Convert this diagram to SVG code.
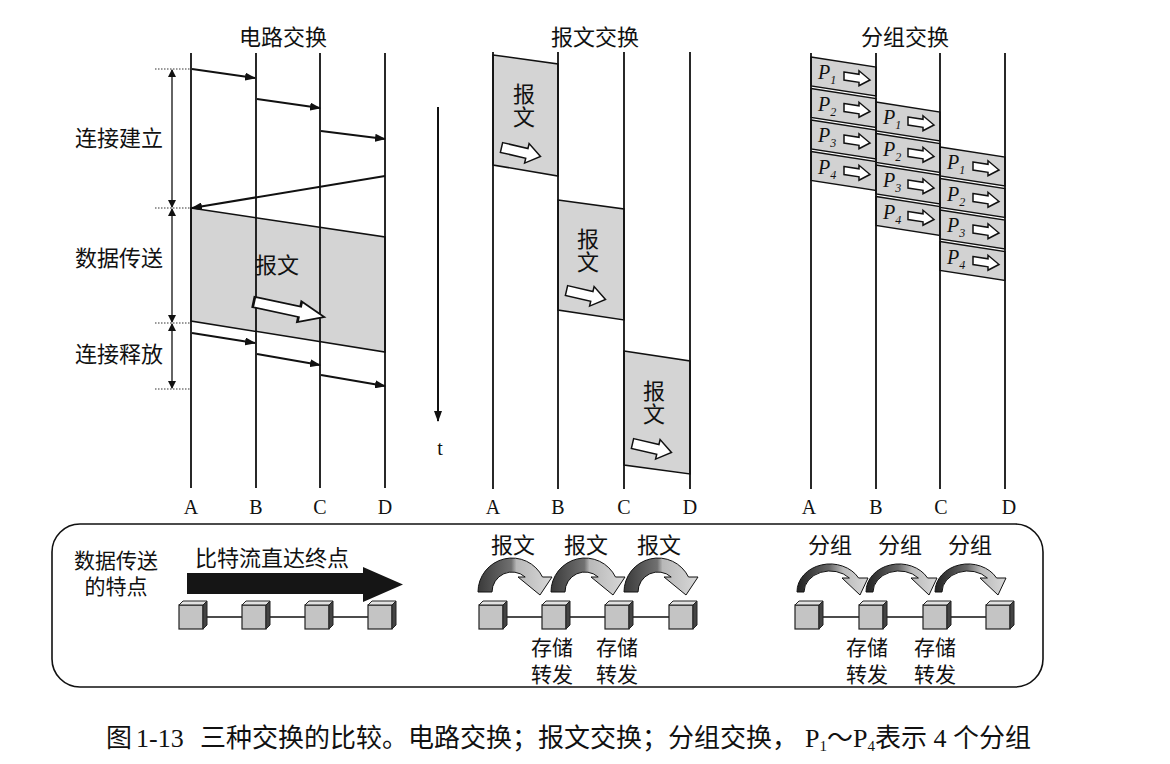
<svg xmlns="http://www.w3.org/2000/svg" xmlns:xlink="http://www.w3.org/1999/xlink" width="1170" height="764" viewBox="0 0 1170 764">
<style>
.ln{stroke:#111;stroke-width:1.8;fill:none}
.thin{stroke:#111;stroke-width:1.3;fill:none}
.dot{stroke:#333;stroke-width:1;stroke-dasharray:1.5,1.5;fill:none}
.ar{stroke:#111;stroke-width:2;fill:none}
.gray{fill:#d4d4d4;stroke:#111;stroke-width:1.5}
.pk{fill:#d2d2d2;stroke:#111;stroke-width:1.4}
.wa{fill:#fff;stroke:#111;stroke-width:1.5}
.cn{font-family:"Noto Sans CJK SC",sans-serif;font-size:22px;fill:#111}
.two{font-size:21px}
.vt{writing-mode:vertical-rl;letter-spacing:1px}
.lab{font-family:"Liberation Serif",serif;font-size:20px;fill:#111;text-anchor:middle}
.p{font-family:"Liberation Serif",serif;font-style:italic;font-size:20px;fill:#111}
.sub{font-size:12px}
.cap{font-family:"Liberation Serif","Noto Sans CJK SC",serif;font-size:26px;fill:#111}
.capc{font-family:"Noto Sans CJK SC",sans-serif;font-size:26px;fill:#111}
</style>
<defs>
<marker id="ah" markerUnits="userSpaceOnUse" markerWidth="11" markerHeight="8" refX="10" refY="4" orient="auto"><path d="M0,0 L11,4 L0,8 Z" fill="#111"/></marker>
<marker id="ah2" markerUnits="userSpaceOnUse" markerWidth="8" markerHeight="10" refX="7" refY="4" orient="auto-start-reverse"><path d="M0,0 L8,4 L0,8 Z" fill="#111"/></marker>
<path id="parrow" d="M-13,-4 L2,-4 L2,-7.5 L13,0 L2,7.5 L2,4 L-13,4 Z"/>
<path id="marrow" d="M-20,-5 L6,-5 L6,-10 L20,0 L6,10 L6,5 L-20,5 Z"/>
<linearGradient id="gm" x1="0" y1="0" x2="1" y2="0"><stop offset="0" stop-color="#3a3a3a"/><stop offset="0.45" stop-color="#707070"/><stop offset="0.52" stop-color="#b8b8b8"/><stop offset="1" stop-color="#d8d8d8"/></linearGradient>
<linearGradient id="gp" x1="0" y1="0" x2="1" y2="0"><stop offset="0" stop-color="#222"/><stop offset="0.45" stop-color="#666"/><stop offset="0.65" stop-color="#bbb"/><stop offset="1" stop-color="#d8d8d8"/></linearGradient>
<path id="marc" d="M-34,592 A34,34 0 0 1 30.5,577 L40,577 L28,595 L6,577 L13.2,577 A20,20 0 0 0 -20,592 Z" fill="url(#gm)" stroke="#111" stroke-width="1"/>
<path id="parc" d="M-33,592 A33,28 0 0 1 28.6,578 L38,578 L30,595 L12,578 L19.4,578 A26,21 0 0 0 -26,592 Z" fill="url(#gp)" stroke="#111" stroke-width="1"/>
<g id="cube">
<rect x="-13" y="-12" width="24" height="24" fill="#c4c4c4" stroke="#222" stroke-width="1.2"/>
<polygon points="-13,-12 -9,-16 15,-16 11,-12" fill="#e2e2e2" stroke="#222" stroke-width="1"/>
<polygon points="11,-12 15,-16 15,8 11,12" fill="#444" stroke="#222" stroke-width="1"/>
</g>
</defs>
<rect width="1170" height="764" fill="#fff"/>

<!-- Circuit switching -->
<g id="circuit">
<text class="cn" x="283" y="45" text-anchor="middle">电路交换</text>
<polygon class="gray" points="191,208 385,237 385,352 191,321"/>
<line class="ln" x1="191" y1="53" x2="191" y2="488"/>
<line class="ln" x1="256" y1="53" x2="256" y2="488"/>
<line class="ln" x1="320" y1="53" x2="320" y2="488"/>
<line class="ln" x1="385" y1="53" x2="385" y2="488"/>
<text class="cn" x="255" y="273">报文</text>
<use href="#marrow" class="wa" transform="translate(289,309.5) rotate(12) scale(1.8,1.05)"/>
<text class="lab" x="191" y="514">A</text>
<text class="lab" x="256" y="514">B</text>
<text class="lab" x="320" y="514">C</text>
<text class="lab" x="385" y="514">D</text>
<text class="cn" x="75" y="146">连接建立</text>
<text class="cn" x="75" y="266">数据传送</text>
<text class="cn" x="75" y="362">连接释放</text>
</g>
<g id="connectors">
<line class="dot" x1="155" y1="69" x2="190" y2="69"/>
<line class="dot" x1="155" y1="208" x2="190" y2="208"/>
<line class="dot" x1="155" y1="323" x2="190" y2="323"/>
<line class="dot" x1="155" y1="389" x2="190" y2="389"/>
<line class="thin" x1="172" y1="70" x2="172" y2="207" marker-start="url(#ah2)" marker-end="url(#ah2)"/>
<line class="thin" x1="172" y1="209" x2="172" y2="322" marker-start="url(#ah2)" marker-end="url(#ah2)"/>
<line class="thin" x1="172" y1="324" x2="172" y2="388" marker-start="url(#ah2)" marker-end="url(#ah2)"/>
<line class="ar" x1="192" y1="69" x2="255" y2="78" marker-end="url(#ah)"/>
<line class="ar" x1="257" y1="99" x2="320" y2="108" marker-end="url(#ah)"/>
<line class="ar" x1="321" y1="131" x2="385" y2="139" marker-end="url(#ah)"/>
<line class="ar" x1="385" y1="176" x2="192" y2="208" marker-end="url(#ah)"/>
<line class="ar" x1="192" y1="333" x2="255" y2="343" marker-end="url(#ah)"/>
<line class="ar" x1="257" y1="354" x2="320" y2="365" marker-end="url(#ah)"/>
<line class="ar" x1="321" y1="375" x2="385" y2="386" marker-end="url(#ah)"/>
<line class="ar" x1="438" y1="107" x2="438" y2="421" marker-end="url(#ah)"/>
</g>
<g id="time">
<text class="lab" x="440" y="455" style="font-size:20px">t</text>
</g>

<!-- Message switching -->
<g id="message">
<text class="cn" x="595" y="45" text-anchor="middle">报文交换</text>
<polygon class="gray" points="493,55 558,64 558,176 493,165"/>
<polygon class="gray" points="558,200 624,209 624,320 558,310"/>
<polygon class="gray" points="624,351 690,361 690,474 624,465"/>
<line class="ln" x1="493" y1="52" x2="493" y2="489"/>
<line class="ln" x1="558" y1="52" x2="558" y2="489"/>
<line class="ln" x1="624" y1="52" x2="624" y2="489"/>
<line class="ln" x1="690" y1="52" x2="690" y2="489"/>
<text class="cn vt" x="524" y="83">报文</text>
<use href="#marrow" class="wa" transform="translate(521,152) rotate(13)"/>
<text class="cn vt" x="588" y="228">报文</text>
<use href="#marrow" class="wa" transform="translate(586,295) rotate(13)"/>
<text class="cn vt" x="654" y="380">报文</text>
<use href="#marrow" class="wa" transform="translate(652,448) rotate(13)"/>
<text class="lab" x="493" y="514">A</text>
<text class="lab" x="558" y="514">B</text>
<text class="lab" x="624" y="514">C</text>
<text class="lab" x="690" y="514">D</text>
</g>

<!-- Packet switching -->
<g id="packet">
<text class="cn" x="905" y="45" text-anchor="middle">分组交换</text>
<g id="col-AB">
<polygon class="pk" points="811,57 876,67 876,96 811,86"/>
<polygon class="pk" points="811,88.5 876,98.5 876,127.5 811,117.5"/>
<polygon class="pk" points="811,120 876,130 876,159 811,149"/>
<polygon class="pk" points="811,151.5 876,161.5 876,190.5 811,180.5"/>
<text class="p" x="818" y="79">P<tspan class="sub" dy="5">1</tspan></text>
<text class="p" x="818" y="110.5">P<tspan class="sub" dy="5">2</tspan></text>
<text class="p" x="818" y="142">P<tspan class="sub" dy="5">3</tspan></text>
<text class="p" x="818" y="173.5">P<tspan class="sub" dy="5">4</tspan></text>
<use href="#parrow" class="wa" transform="translate(857,78) skewY(8.7)"/>
<use href="#parrow" class="wa" transform="translate(857,109.5) skewY(8.7)"/>
<use href="#parrow" class="wa" transform="translate(857,141) skewY(8.7)"/>
<use href="#parrow" class="wa" transform="translate(857,172.5) skewY(8.7)"/>
</g>
<g id="col-BC">
<polygon class="pk" points="876,102 940,112 940,141 876,131"/>
<polygon class="pk" points="876,133.5 940,143.5 940,172.5 876,162.5"/>
<polygon class="pk" points="876,165 940,175 940,204 876,194"/>
<polygon class="pk" points="876,196.5 940,206.5 940,235.5 876,225.5"/>
<text class="p" x="883" y="124">P<tspan class="sub" dy="5">1</tspan></text>
<text class="p" x="883" y="155.5">P<tspan class="sub" dy="5">2</tspan></text>
<text class="p" x="883" y="187">P<tspan class="sub" dy="5">3</tspan></text>
<text class="p" x="883" y="218.5">P<tspan class="sub" dy="5">4</tspan></text>
<use href="#parrow" class="wa" transform="translate(921,123) skewY(8.7)"/>
<use href="#parrow" class="wa" transform="translate(921,154.5) skewY(8.7)"/>
<use href="#parrow" class="wa" transform="translate(921,186) skewY(8.7)"/>
<use href="#parrow" class="wa" transform="translate(921,217.5) skewY(8.7)"/>
</g>
<g id="col-CD">
<polygon class="pk" points="940,147 1005,157 1005,186 940,176"/>
<polygon class="pk" points="940,178.5 1005,188.5 1005,217.5 940,207.5"/>
<polygon class="pk" points="940,210 1005,220 1005,249 940,239"/>
<polygon class="pk" points="940,241.5 1005,251.5 1005,280.5 940,270.5"/>
<text class="p" x="947" y="169">P<tspan class="sub" dy="5">1</tspan></text>
<text class="p" x="947" y="200.5">P<tspan class="sub" dy="5">2</tspan></text>
<text class="p" x="947" y="232">P<tspan class="sub" dy="5">3</tspan></text>
<text class="p" x="947" y="263.5">P<tspan class="sub" dy="5">4</tspan></text>
<use href="#parrow" class="wa" transform="translate(986,168) skewY(8.7)"/>
<use href="#parrow" class="wa" transform="translate(986,199.5) skewY(8.7)"/>
<use href="#parrow" class="wa" transform="translate(986,231) skewY(8.7)"/>
<use href="#parrow" class="wa" transform="translate(986,262.5) skewY(8.7)"/>
</g>
<line class="ln" x1="811" y1="53" x2="811" y2="489"/>
<line class="ln" x1="876" y1="53" x2="876" y2="489"/>
<line class="ln" x1="940" y1="53" x2="940" y2="489"/>
<line class="ln" x1="1005" y1="53" x2="1005" y2="489"/>
<text class="lab" x="809" y="514">A</text>
<text class="lab" x="876" y="514">B</text>
<text class="lab" x="941" y="514">C</text>
<text class="lab" x="1009" y="514">D</text>
</g>

<!-- Bottom box -->
<g id="features">
<rect x="52" y="524" width="991" height="163" rx="28" fill="none" stroke="#111" stroke-width="1.6"/>
<text class="cn two" text-anchor="middle"><tspan x="116" y="568">数据传送</tspan><tspan x="116" y="594">的特点</tspan></text>
</g>
<g id="circuit-feature">
<text class="cn" x="195" y="566">比特流直达终点</text>
<polygon points="187,573 363,573 363,567 403,584.5 363,602 363,594 187,594" fill="#151515"/>
<line class="thin" x1="192" y1="617" x2="381" y2="617"/>
<use href="#cube" x="192" y="617"/>
<use href="#cube" x="255" y="617"/>
<use href="#cube" x="318" y="617"/>
<use href="#cube" x="381" y="617"/>
</g>
<g id="message-feature">
<text class="cn" x="513" y="553" text-anchor="middle">报文</text>
<text class="cn" x="586" y="553" text-anchor="middle">报文</text>
<text class="cn" x="659" y="553" text-anchor="middle">报文</text>
<use href="#marc" x="512"/>
<use href="#marc" x="585"/>
<use href="#marc" x="658"/>
<line class="thin" x1="492" y1="617" x2="682" y2="617"/>
<use href="#cube" x="492" y="617"/>
<use href="#cube" x="555" y="617"/>
<use href="#cube" x="618" y="617"/>
<use href="#cube" x="682" y="617"/>
<text class="cn two" text-anchor="middle"><tspan x="552" y="655">存储</tspan><tspan x="552" y="682">转发</tspan></text>
<text class="cn two" text-anchor="middle"><tspan x="617" y="655">存储</tspan><tspan x="617" y="682">转发</tspan></text>
</g>
<g id="packet-feature">
<text class="cn" x="830" y="553" text-anchor="middle">分组</text>
<text class="cn" x="900" y="553" text-anchor="middle">分组</text>
<text class="cn" x="970" y="553" text-anchor="middle">分组</text>
<use href="#parc" x="830"/>
<use href="#parc" x="899"/>
<use href="#parc" x="968"/>
<line class="thin" x1="808" y1="617" x2="999" y2="617"/>
<use href="#cube" x="808" y="617"/>
<use href="#cube" x="872" y="617"/>
<use href="#cube" x="936" y="617"/>
<use href="#cube" x="999" y="617"/>
<text class="cn two" text-anchor="middle"><tspan x="867" y="655">存储</tspan><tspan x="867" y="682">转发</tspan></text>
<text class="cn two" text-anchor="middle"><tspan x="935" y="655">存储</tspan><tspan x="935" y="682">转发</tspan></text>
</g>

<!-- Caption -->
<g id="caption">
<text class="capc" x="106" y="747">图</text>
<text class="cap" x="136" y="747">1-13</text>
<text class="capc" x="200" y="747">三种交换的比较。电路交换；报文交换；分组交换，</text>
<text class="cap" x="805" y="747">P<tspan style="font-size:15px" dy="4">1</tspan><tspan class="capc" dy="-4">～</tspan>P<tspan style="font-size:15px" dy="4">4</tspan><tspan class="capc" dy="-4">表示</tspan> 4 <tspan class="capc">个分组</tspan></text>
</g>
</svg>
